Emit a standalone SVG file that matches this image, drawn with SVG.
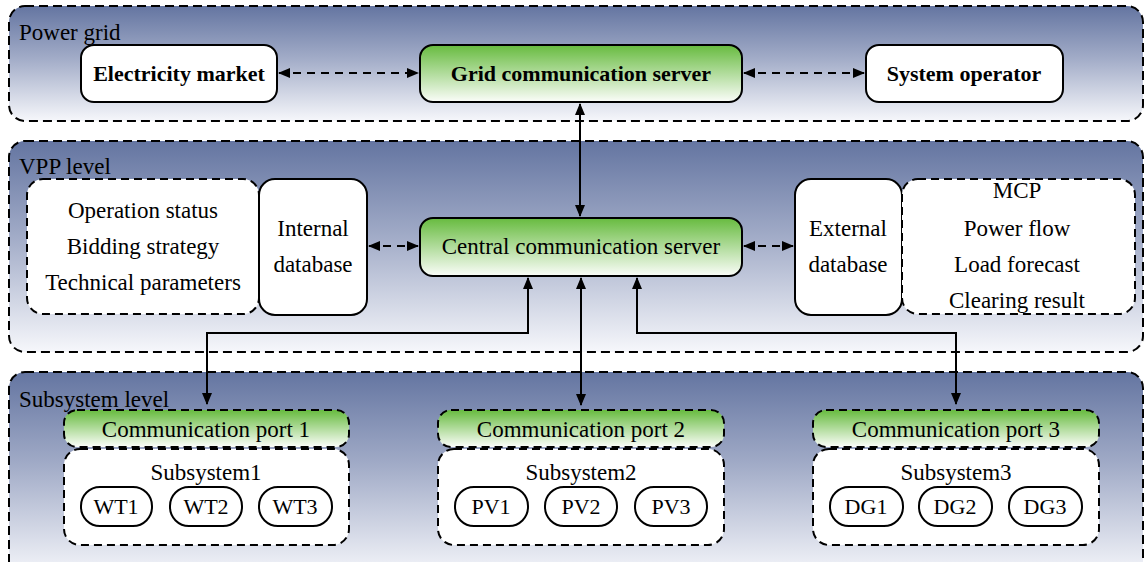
<svg xmlns="http://www.w3.org/2000/svg" width="1145" height="562" viewBox="0 0 1145 562">
<defs>
<linearGradient id="panel" x1="0" y1="0" x2="0" y2="1">
<stop offset="0" stop-color="#6475a1"/>
<stop offset="0.45" stop-color="#a1abc7"/>
<stop offset="1" stop-color="#f6f7fb"/>
</linearGradient>
<linearGradient id="green" x1="0" y1="0" x2="0" y2="1">
<stop offset="0" stop-color="#67bb3f"/>
<stop offset="1" stop-color="#fbfdf9"/>
</linearGradient>
<marker id="ah" viewBox="0 0 12 10" refX="11" refY="5" markerWidth="12" markerHeight="10" markerUnits="userSpaceOnUse" orient="auto-start-reverse">
<path d="M0,0 L12,5 L0,10 Z" fill="#000"/>
</marker>
<style>
.panel{fill:url(#panel);stroke:#000;stroke-width:2;stroke-dasharray:9,5}
.box{fill:#fff;stroke:#000;stroke-width:2}
.gbox{fill:url(#green);stroke:#000;stroke-width:2}
.dbox{fill:#fff;stroke:#000;stroke-width:2;stroke-dasharray:8,5}
.dgbox{fill:url(#green);stroke:#000;stroke-width:2;stroke-dasharray:8,5}
.t{font-family:"Liberation Serif","Times New Roman",serif;font-size:23px;fill:#000;text-anchor:middle}
.s{font-size:22px}
.tb{font-family:"Liberation Serif","Times New Roman",serif;font-size:22px;font-weight:bold;fill:#000;text-anchor:middle}
.lbl{font-family:"Liberation Serif","Times New Roman",serif;font-size:23px;fill:#000}
.c{fill:none;stroke:#000;stroke-width:2}
.cd{fill:none;stroke:#000;stroke-width:2;stroke-dasharray:8,6}
</style>
</defs>

<g id="power-grid">
<rect class="panel" x="9" y="6" width="1134" height="115" rx="16"/>
<text class="lbl" x="19" y="40">Power grid</text>
</g>
<g id="vpp-level">
<rect class="panel" x="9" y="141" width="1134" height="211" rx="16"/>
<text class="lbl" x="19" y="174">VPP level</text>
</g>
<g id="subsystem-level">
<rect class="panel" x="9" y="372" width="1134" height="205" rx="16"/>
<text class="lbl" x="19" y="407">Subsystem level</text>
</g>

<g id="electricity-market">
<rect class="box" x="81" y="45" width="196" height="57" rx="13"/>
<text class="tb" x="179" y="81">Electricity market</text>
</g>
<g id="grid-server">
<rect class="gbox" x="420" y="45" width="322" height="57" rx="13"/>
<text class="tb" x="581" y="81">Grid communication server</text>
</g>
<g id="system-operator">
<rect class="box" x="866" y="45" width="197" height="57" rx="13"/>
<text class="tb" x="964" y="81">System operator</text>
</g>

<g id="internal-info">
<rect class="dbox" x="27" y="179" width="232" height="135" rx="16"/>
<text class="t" x="143" y="218">Operation status</text>
<text class="t" x="143" y="254">Bidding strategy</text>
<text class="t" x="143" y="290">Technical parameters</text>
</g>
<g id="internal-database">
<rect class="box" x="259" y="179" width="108" height="136" rx="16"/>
<text class="t" x="313" y="236">Internal</text>
<text class="t" x="313" y="272">database</text>
</g>
<g id="central-server">
<rect class="gbox" x="420" y="218" width="322" height="58" rx="13"/>
<text class="t" x="581" y="254">Central communication server</text>
</g>
<g id="external-database">
<rect class="box" x="795" y="179" width="107" height="136" rx="16"/>
<text class="t" x="848" y="236">External</text>
<text class="t" x="848" y="272">database</text>
</g>
<g id="external-info">
<rect class="dbox" x="902" y="179" width="233" height="135" rx="16"/>
<text class="t" x="1017" y="198">MCP</text>
<text class="t" x="1017" y="236">Power flow</text>
<text class="t" x="1017" y="272">Load forecast</text>
<text class="t" x="1017" y="308">Clearing result</text>
</g>

<g id="subsystem1">
<rect class="dgbox" x="64" y="410" width="285" height="37" rx="13"/>
<text class="t" x="206" y="437">Communication port 1</text>
<rect class="dbox" x="64" y="449" width="285" height="96" rx="16"/>
<text class="t" x="206" y="480">Subsystem1</text>
<rect class="box" x="81" y="487" width="71" height="39" rx="19"/>
<text class="t s" x="116" y="514">WT1</text>
<rect class="box" x="170" y="487" width="72" height="39" rx="19"/>
<text class="t s" x="206" y="514">WT2</text>
<rect class="box" x="259" y="487" width="73" height="39" rx="19"/>
<text class="t s" x="295" y="514">WT3</text>
</g>
<g id="subsystem2">
<rect class="dgbox" x="438" y="410" width="286" height="37" rx="13"/>
<text class="t" x="581" y="437">Communication port 2</text>
<rect class="dbox" x="438" y="449" width="286" height="96" rx="16"/>
<text class="t" x="581" y="480">Subsystem2</text>
<rect class="box" x="455" y="487" width="73" height="39" rx="19"/>
<text class="t s" x="491" y="514">PV1</text>
<rect class="box" x="545" y="487" width="72" height="39" rx="19"/>
<text class="t s" x="581" y="514">PV2</text>
<rect class="box" x="635" y="487" width="72" height="39" rx="19"/>
<text class="t s" x="671" y="514">PV3</text>
</g>
<g id="subsystem3">
<rect class="dgbox" x="813" y="410" width="286" height="37" rx="13"/>
<text class="t" x="956" y="437">Communication port 3</text>
<rect class="dbox" x="813" y="449" width="286" height="96" rx="16"/>
<text class="t" x="956" y="480">Subsystem3</text>
<rect class="box" x="830" y="487" width="73" height="39" rx="19"/>
<text class="t s" x="866" y="514">DG1</text>
<rect class="box" x="919" y="487" width="73" height="39" rx="19"/>
<text class="t s" x="955" y="514">DG2</text>
<rect class="box" x="1009" y="487" width="73" height="39" rx="19"/>
<text class="t s" x="1045" y="514">DG3</text>
</g>

<g id="connectors">
<path class="cd" d="M279,73 L418,73" marker-start="url(#ah)" marker-end="url(#ah)"/>
<path class="cd" d="M744,73 L864,73" marker-start="url(#ah)" marker-end="url(#ah)"/>
<path class="c" d="M580,104 L580,216" marker-start="url(#ah)" marker-end="url(#ah)"/>
<path class="cd" d="M369,246 L418,246" marker-start="url(#ah)" marker-end="url(#ah)"/>
<path class="cd" d="M744,246 L793,246" marker-start="url(#ah)" marker-end="url(#ah)"/>
<path class="c" d="M528,278 L528,333 L207,333 L207,404" marker-start="url(#ah)" marker-end="url(#ah)"/>
<path class="c" d="M581,278 L581,405" marker-start="url(#ah)" marker-end="url(#ah)"/>
<path class="c" d="M637,278 L637,333 L956,333 L956,404" marker-start="url(#ah)" marker-end="url(#ah)"/>
</g>
</svg>
